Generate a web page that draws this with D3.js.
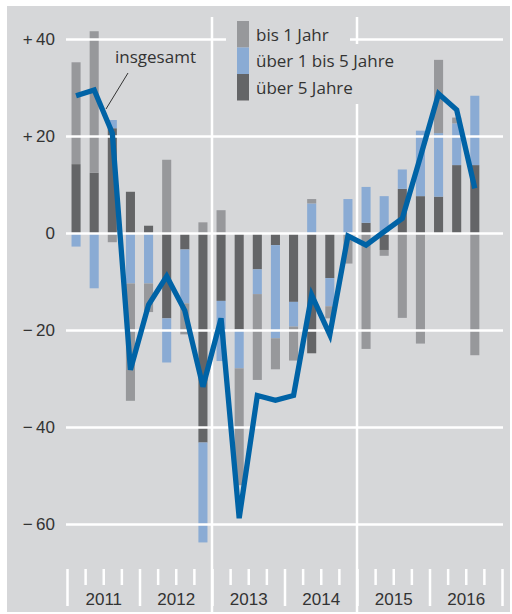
<!DOCTYPE html>
<html>
<head>
<meta charset="utf-8">
<script src="https://cdn.jsdelivr.net/npm/d3@7"></script>
<style>
  body { margin: 0; background: #fff; }
  svg { display: block; font-family: "Open Sans", "Noto Sans", sans-serif; }
</style>
</head>
<body>
<div id="chart"></div>
<script>
// quarters 2011 Q1 .. 2016 Q4 (last one empty)
var years = [2011, 2012, 2013, 2014, 2015, 2016];
var quarters = [];
years.forEach(function (yr) { [1, 2, 3, 4].forEach(function (q) { quarters.push(yr + ' Q' + q); }); });

var bis1 = [21.0, 29.2, -1.9, -24.2, -5.9, 15.1, -6.4, 2.2, 4.7, -24.1, -17.7, -6.4,
            -7.0, 0.9, -2.5, -6.3, -23.9, -1.2, -17.5, -22.8, 15.1, 1.2, -25.2];
var ueber1bis5 = [-2.8, -11.4, 1.7, -10.4, -10.4, -9.1, -11.1, -20.6, -12.4, -8.0, -5.1, -19.2,
            -5.1, 6.1, -5.8, 7.0, 7.4, 7.6, 4.0, 13.5, 13.1, 8.6, 14.3];
var ueber5 = [14.2, 12.4, 21.6, 8.5, 1.5, -17.6, -3.4, -43.2, -14.0, -19.9, -7.5, -2.5,
            -14.2, -24.8, -9.3, 0, 2.1, -3.5, 9.1, 7.6, 7.5, 14.0, 14.0];
var insgesamt = [28.3, 29.5, 20.6, -28.2, -14.8, -8.9, -16.0, -31.7, -17.6, -58.8, -33.5, -34.5,
            -33.5, -12.8, -21.0, -0.6, -2.5, 0.3, 3.0, 15.7, 28.7, 25.4, 9.2];
var yTicks = [-60, -40, -20, 0, 20, 40];

var seriesKeys = ['ueber5', 'ueber1bis5', 'bis1'];
var seriesNames = { bis1: 'bis 1 Jahr', ueber1bis5: '\u00fcber 1 bis 5 Jahre', ueber5: '\u00fcber 5 Jahre' };
var colors = { bis1: '#97989b', ueber1bis5: '#8aabd4', ueber5: '#646567' };

var rows = bis1.map(function (d, i) {
  return { q: quarters[i], bis1: bis1[i], ueber1bis5: ueber1bis5[i], ueber5: ueber5[i], total: insgesamt[i] };
});

var w = 512, h = 614;
var fs = 17;
var svg = d3.select('#chart').append('svg').attr('width', w).attr('height', h);

// grey panel
svg.append('rect').attr('x', 7).attr('y', 6).attr('width', 503).attr('height', 606).attr('fill', '#d6d7d9');

var x = d3.scaleBand().domain(quarters).range([67, 502]).paddingInner(0.5).paddingOuter(0.25);
var xt = d3.scaleLinear().domain([2011, 2017]).range([67, 502]);
var y = d3.scaleLinear().domain([-60, 40]).range([524, 39]);

var stack = d3.stack().keys(seriesKeys).offset(d3.stackOffsetDiverging);
var stacked = stack(rows);

svg.append('g').selectAll('g')
  .data(stacked)
  .enter().append('g')
    .attr('fill', function (d) { return colors[d.key]; })
  .selectAll('rect')
  .data(function (d) { return d; })
  .enter().append('rect')
    .attr('x', function (d) { return x(d.data.q); })
    .attr('width', x.bandwidth())
    .attr('y', function (d) { return y(Math.max(d[0], d[1])); })
    .attr('height', function (d) { return Math.abs(y(d[0]) - y(d[1])); });

// horizontal grid + y labels
var fmt = function (v) {
  if (v > 0) return '+\u2009' + v;
  if (v < 0) return '\u2212\u2009' + Math.abs(v);
  return '0';
};
var gy = svg.append('g').attr('transform', 'translate(66,0)')
  .call(d3.axisLeft(y).tickValues(yTicks).tickSize(-437).tickPadding(11).tickFormat(fmt));
gy.select('.domain').remove();
gy.selectAll('.tick line').attr('stroke', '#fff').attr('stroke-width', 2.5);
gy.selectAll('.tick text').attr('fill', '#333').attr('font-size', fs).attr('font-family', null);

// vertical separators
svg.append('g').selectAll('line')
  .data([2013, 2015])
  .enter().append('line')
    .attr('x1', function (d) { return xt(d); }).attr('x2', function (d) { return xt(d); })
    .attr('y1', 17).attr('y2', 612)
    .attr('stroke', '#fff').attr('stroke-width', 2.5);

// x axis: quarter ticks, year ticks, year labels
var qTicks = d3.range(2011, 2017.01, 0.25).filter(function (v) { return Math.abs(v - Math.round(v)) > 0.01; });
var gq = svg.append('g').attr('transform', 'translate(0,569)')
  .call(d3.axisBottom(xt).tickValues(qTicks).tickSize(16).tickFormat(''));
var gyr = svg.append('g').attr('transform', 'translate(0,569)')
  .call(d3.axisBottom(xt).tickValues(d3.range(2011, 2018)).tickSize(37).tickFormat(''));
[gq, gyr].forEach(function (g) {
  g.select('.domain').remove();
  g.selectAll('.tick line').attr('stroke', '#fff').attr('stroke-width', 2.5);
});
var gl = svg.append('g').attr('transform', 'translate(0,590)')
  .call(d3.axisBottom(xt).tickValues(years.map(function (v) { return v + 0.5; })).tickSize(0)
    .tickFormat(function (v) { return String(Math.floor(v)); }));
gl.select('.domain').remove();
gl.selectAll('.tick text').attr('fill', '#333').attr('font-size', fs).attr('font-family', null);

// legend with grey backing
var legend = svg.append('g');
legend.append('rect').attr('x', 226).attr('y', 20).attr('width', 124).attr('height', 26).attr('fill', '#d6d7d9');
legend.append('rect').attr('x', 226).attr('y', 44).attr('width', 186).attr('height', 60).attr('fill', '#d6d7d9');
var legendKeys = ['bis1', 'ueber1bis5', 'ueber5'];
legendKeys.forEach(function (k, i) {
  legend.append('rect').attr('x', 237).attr('y', 21 + i * 26.5).attr('width', 12).attr('height', 26.5)
    .attr('fill', colors[k]);
  legend.append('text').attr('x', 256).attr('y', 35 + i * 26.5).attr('dy', '0.35em')
    .attr('font-size', fs).attr('fill', '#333').text(seriesNames[k]);
});

// total line
var line = d3.line()
  .x(function (d) { return x(d.q) + x.bandwidth() / 2; })
  .y(function (d) { return y(d.total); });
svg.append('path').datum(rows)
  .attr('d', line).attr('fill', 'none')
  .attr('stroke', '#0063a6').attr('stroke-width', 5.3).attr('stroke-linejoin', 'miter');

// annotation
svg.append('line').attr('x1', 128).attr('y1', 73).attr('x2', 106).attr('y2', 109)
  .attr('stroke', '#333').attr('stroke-width', 1);
svg.append('text').attr('x', 115).attr('y', 57).attr('dy', '0.35em')
  .attr('font-size', fs).attr('fill', '#333').text('insgesamt');
</script>
</body>
</html>
